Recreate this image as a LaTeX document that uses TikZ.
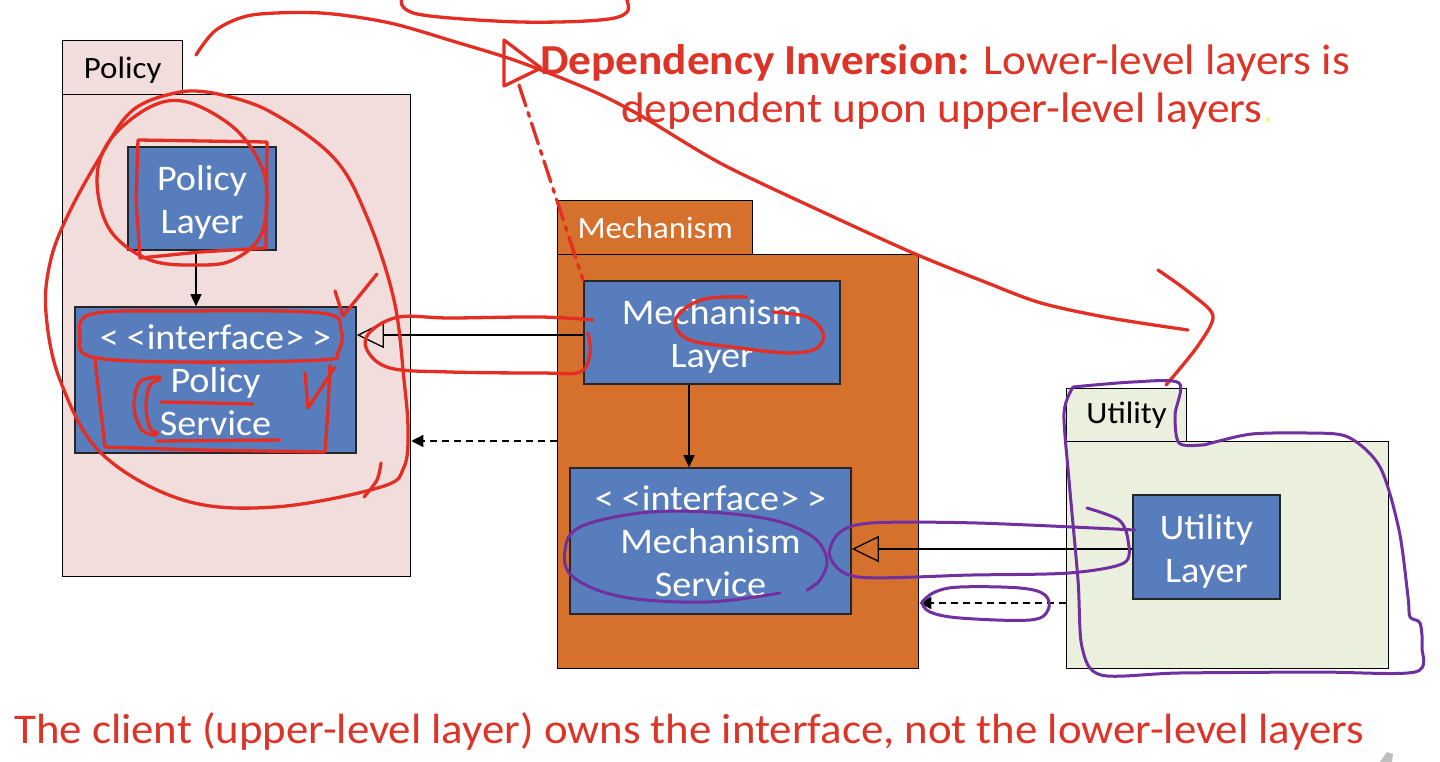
\documentclass[tikz,border=0pt]{standalone}
\usepackage{fontspec}
\setmainfont{Carlito}[FakeStretch=1.06]
\usetikzlibrary{arrows.meta,calc}
\definecolor{pinkbg}{RGB}{240,221,220}
\definecolor{orangebg}{RGB}{214,113,45}
\definecolor{greenbg}{RGB}{235,240,222}
\definecolor{boxblue}{RGB}{88,125,188}
\definecolor{textred}{RGB}{222,52,40}
\definecolor{inkred}{RGB}{228,45,35}
\definecolor{inkpurple}{RGB}{112,48,160}
\definecolor{dotyellow}{RGB}{250,245,150}
\newcommand\iface{<\kern8pt<\kern1pt interface\kern1pt>\kern8pt>}
\newcommand\topstrut{\rule{0pt}{33pt}}
\begin{document}
\begin{tikzpicture}[x=1pt,y=-1pt,
  pkg/.style={draw=black,line width=1.3pt,inner sep=0pt,anchor=north west},
  tabtext/.style={font=\fontsize{31}{36}\selectfont},
  box/.style={draw=black!85,line width=1.6pt,fill=boxblue,text=white,align=center,inner sep=0pt,
    font=\fontsize{36}{43}\selectfont},
  arr/.style={line width=1.4pt,-{Triangle[width=11pt,length=12pt]}},
  real/.style={line width=1.3pt,-{Triangle[open,width=26pt,length=27pt,line width=1.3pt]}},
  dep/.style={line width=1.5pt,dash pattern=on 7pt off 5pt,-{Triangle[width=12pt,length=12pt]}},
  redink/.style={draw=inkred,line width=3.3pt,line cap=round,line join=round},
  purpleink/.style={draw=inkpurple,line width=3pt,line cap=round,line join=round},
  bigtext/.style={text=textred,inner sep=0pt,font=\fontsize{42.7}{48}\selectfont}]
\useasboundingbox (0,0) rectangle (1440,762);
\clip (0,0) rectangle (1440,762);
\fill[white] (0,0) rectangle (1440,762);

% packages
\node[pkg,fill=pinkbg,minimum width=348pt,minimum height=482pt] (pbody) at (62,94) {};
\node[pkg,fill=pinkbg,minimum width=120pt,minimum height=54pt,tabtext] (ptab) at (62,40) {\rule{0pt}{26pt}Policy};
\node[pkg,fill=orangebg,minimum width=361pt,minimum height=414pt] (mbody) at (557,254) {};
\node[pkg,fill=orangebg,minimum width=195pt,minimum height=54pt,tabtext,text=white] (mtab) at (557,200) {Mechanism};
\node[pkg,fill=greenbg,minimum width=322pt,minimum height=227pt] (ubody) at (1066,441) {};
\node[pkg,fill=greenbg,minimum width=120pt,minimum height=53pt,tabtext] (utab) at (1066,388) {Utility};

% boxes
\node[box,minimum width=148pt,minimum height=103pt] (pl) at (202,198.5) {\topstrut Policy\\Layer};
\node[box,minimum width=281pt,minimum height=146pt] (ps) at (215.5,380) {\iface\\Policy\\Service};
\node[box,minimum width=256pt,minimum height=103pt] (ml) at (712,332.5) {\topstrut Mechanism\\Layer};
\node[box,minimum width=281pt,minimum height=146pt] (ms) at (710.5,541) {\iface\\Mechanism\\Service};
\node[box,minimum width=147pt,minimum height=104pt] (ul) at (1206.5,547) {\topstrut Utility\\Layer};

% connectors
\coordinate (d1) at (0,441);
\coordinate (d2) at (0,603);
\draw[arr] ([xshift=-6pt]pl.south) -- ([xshift=-6pt]pl.south |- ps.north);
\draw[arr] ([xshift=-23pt]ml.south) -- ([xshift=-23pt]ml.south |- ms.north);
\draw[real] ([yshift=-2.5pt]ml.west) -- ([yshift=-2.5pt]ml.west -| ps.east);
\draw[real] ([yshift=-2pt]ul.west) -- ([yshift=-2pt]ul.west -| ms.east);
\draw[dep] (mbody.west |- d1) -- (pbody.east |- d1);
\draw[dep] (ubody.west |- d2) -- (mbody.east |- d2);

% texts
\node[bigtext,anchor=base west] (t1) at (540,75) {\textbf{Dependency Inversion:} Lower-level layers is};
\node[bigtext,anchor=base west] (t2) at (621,123) {dependent upon upper-level layers\textcolor{dotyellow}{.}};
\node[bigtext,anchor=base west,font=\fontsize{42.3}{48}\selectfont] (t3) at (14,743) {The client (upper-level layer) owns the interface, not the lower-level layers};

% faint icon at the corner
\fill[black!25] (1380,762) -- (1387,752) -- (1393,754) -- (1392,762) -- cycle;

% red handwriting
\draw[redink] plot[smooth,tension=0.6] coordinates {(402,-5) (404,8) (430,16) (520,22) (600,20) (627,12) (625,-5)};
\draw[redink] plot[smooth,tension=0.5] coordinates {(196,55) (216,30) (252,15) (321,13) (390,23) (459,43) (505,57) (541,70) (597,93) (643,117) (720,163) (812,207) (913,253) (985,282) (1041,303) (1110,318) (1188,330)};
\draw[redink] plot[smooth,tension=0.5] coordinates {(1158,270) (1190,293) (1213,316) (1197,347) (1166,385)};
\draw[redink] (504,40) -- (504,86) -- (541,68) -- cycle;
\draw[redink,dash pattern=on 22pt off 7pt on 4pt off 7pt] (519,85) -- (583,280);
\draw[redink] plot[smooth,tension=0.6] coordinates {(213,93) (180,92) (133,110) (100,157) (67,217) (50,263) (46,313) (60,380) (101,453) (183,500) (275,507) (381,487) (404,467) (408,430) (404,380) (394,300) (367,217) (333,157) (267,110) (213,93)};
\draw[redink] plot[smooth,tension=0.5] coordinates {(381,463) (377,480) (364,497)};
\draw[redink] plot[smooth cycle,tension=0.6] coordinates {(187,102) (233,127) (260,163) (267,197) (260,237) (233,260) (200,265) (150,260) (110,230) (97,180) (110,140) (150,107)};
\draw[redink] (138,140) -- (267,142) -- (266,248) -- (200,252) -- (140,258) -- (136,200) -- cycle;
\draw[redink] plot[smooth cycle,tension=0.6] coordinates {(92,314) (183,311) (321,313) (341,330) (338,352) (321,360) (183,362) (92,357) (80,337)};
\draw[redink] (95,360) -- (105,447) -- (200,450) -- (325,452) -- (328,410) -- (330,365);
\draw[redink] (305,373) -- (308,408) -- (335,367);
\draw[redink] (335,291) -- (343,316) -- (377,274);
\draw[redink] (161,402) -- (253,404);
\draw[redink] (157,441) -- (280,440);
\draw[redink] plot[smooth,tension=0.6] coordinates {(160,377) (140,382) (134,407) (142,430) (156,435)};
\draw[redink] plot[smooth,tension=0.6] coordinates {(160,380) (150,385) (146,407) (150,428) (158,433)};
\draw[redink] plot[smooth,tension=0.6] coordinates {(593,320) (540,317) (450,318) (399,317) (370,332) (367,350) (390,368) (450,372) (540,373) (580,372) (590,353) (588,333)};
\draw[redink] plot[smooth,tension=0.6] coordinates {(773,312) (807,317) (823,333) (817,348) (790,353) (740,348) (690,340) (675,323) (687,307) (710,298) (747,297)};

% purple handwriting
\draw[purpleink] plot[smooth,tension=0.5] coordinates {(1073,387) (1133,382) (1179,383) (1175,415) (1179,443) (1202,445) (1215,442) (1252,434) (1307,433) (1348,437) (1380,467) (1399,530) (1408,597) (1410,617) (1420,623) (1422,647) (1415,672) (1316,672) (1179,673) (1101,675) (1082,647) (1078,580) (1069,480) (1064,413) (1073,387)};
\draw[purpleink] plot[smooth,tension=0.5] coordinates {(1087,508) (1119,520) (1128,540) (1124,563) (1069,573) (972,575) (858,577) (830,557) (839,533) (871,523) (977,523) (1135,530)};
\draw[purpleink] plot[smooth,tension=0.6] coordinates {(922,602) (935,592) (960,587) (1020,588) (1045,595) (1048,610) (1030,620) (960,618) (930,612) (922,603)};
\draw[purpleink] plot[smooth,tension=0.6] coordinates {(780,593) (707,602) (623,597) (573,577) (565,550) (580,527) (640,513) (707,512) (773,520) (813,537) (827,560) (820,580) (807,590)};
\end{tikzpicture}
\end{document}
